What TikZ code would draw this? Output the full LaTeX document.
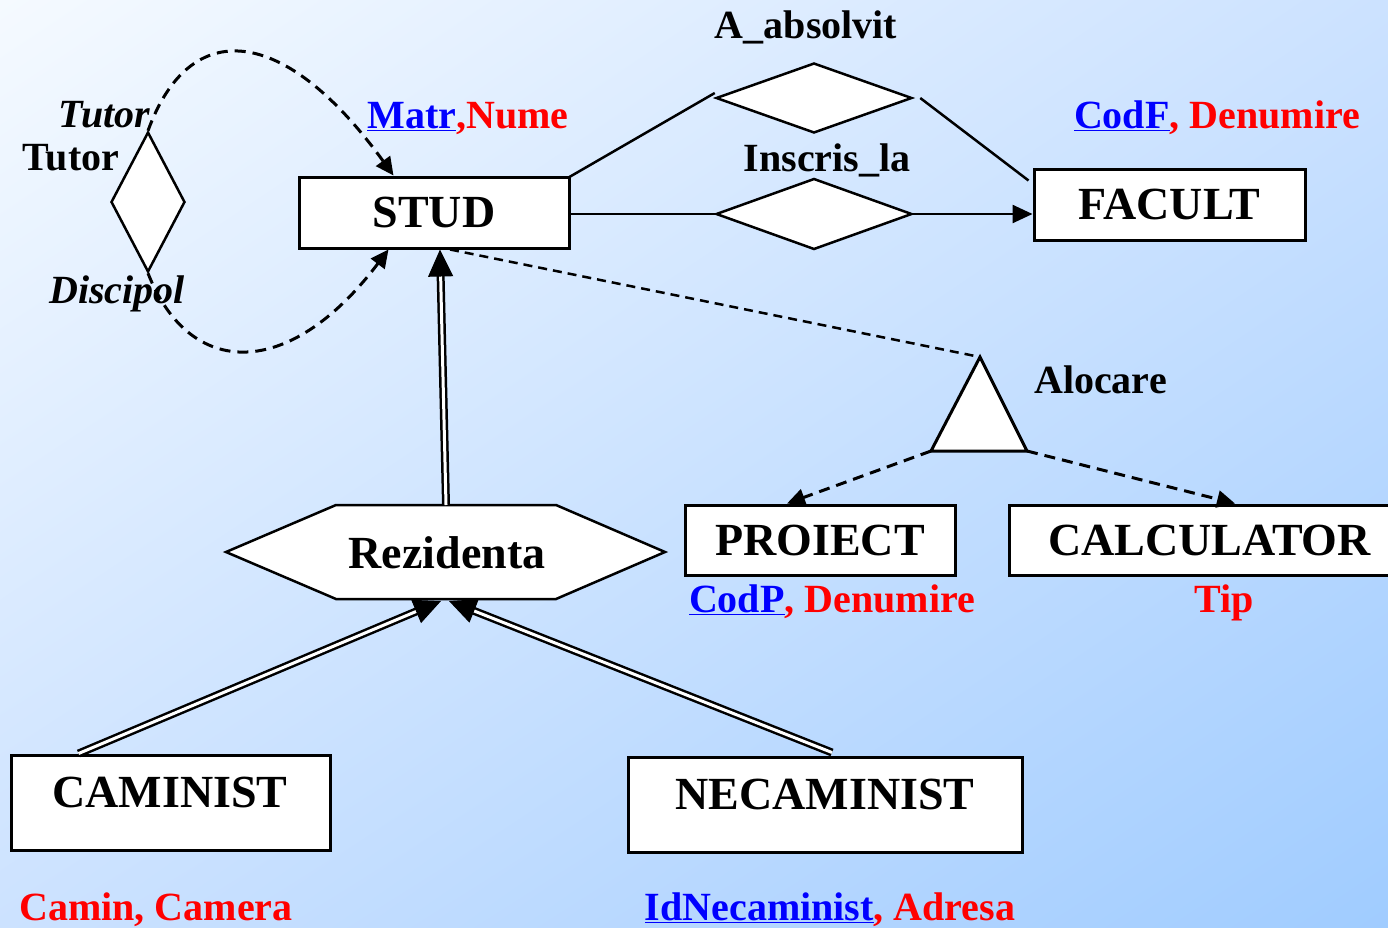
\documentclass[tikz,border=0pt]{standalone}
\usepackage{fontspec}
\setmainfont{Liberation Serif}
\usetikzlibrary{shapes.geometric,arrows.meta,calc,shadings}
\definecolor{bgA}{RGB}{245,250,255}
\definecolor{bgB}{RGB}{204,226,255}
\definecolor{bgC}{RGB}{160,204,255}
\definecolor{keyblue}{RGB}{0,0,255}
\definecolor{attred}{RGB}{255,0,0}
\begin{document}
\begin{tikzpicture}[x=1pt,y=-1pt,
  entity/.style={draw, fill=white, line width=3pt, inner sep=0pt, font=\fontsize{46}{50}\selectfont\bfseries},
  entname/.style={inner sep=0pt, anchor=base, font=\fontsize{46}{50}\selectfont\bfseries},
  rel/.style={diamond, draw, fill=white, line width=2.5pt, inner sep=0pt},
  lbl/.style={inner sep=0pt, anchor=base, font=\fontsize{40}{44}\selectfont\bfseries},
  ilbl/.style={inner sep=0pt, anchor=base, font=\fontsize{40}{44}\selectfont\bfseries\itshape},
  conn/.style={line width=2.5pt},
  tip/.style={line width=2.5pt, -{Triangle[length=20pt,width=18pt]}},
  dsh/.style={line width=3pt, dash pattern=on 11pt off 7pt},
  dshtip/.style={dsh, -{Triangle[length=18pt,width=17pt]}},
  thindsh/.style={line width=2.5pt, dash pattern=on 9pt off 6pt},
  dbl/.style={draw, double=white, double distance=3pt, line width=2.5pt},
  bigtip/.style={line width=1pt, -{Triangle[length=27pt,width=25pt]}}
]
\clip (0,0) rectangle (1388,927);
\shade[upper left=bgA, upper right=bgB, lower left=bgB, lower right=bgC] (0,0) rectangle (1388,927);

% entities
\node[entity, minimum width=270pt, minimum height=71pt] (stud) at (434,212.5) {STUD};
\node[entity, minimum width=271pt, minimum height=71pt] (facult) at (1169.5,204.5) {FACULT};
\node[entity, minimum width=270pt, minimum height=70pt] (proiect) at (820,540) {PROIECT};
\node[entity, minimum width=401pt, minimum height=70pt] (calc) at (1209.5,540) {CALCULATOR};
\node[entity, minimum width=319pt, minimum height=95pt] (caminist) at (170.5,802.5) {};
\node[entname] (caministtxt) at (170,807) {CAMINIST};
\node[entity, minimum width=394pt, minimum height=95pt] (necaminist) at (825,804.5) {};
\node[entname] (necaministtxt) at (825,809) {NECAMINIST};

% relationships
\node[rel, minimum width=196pt, minimum height=70pt] (absolvit) at (814,98) {};
\node[rel, minimum width=196pt, minimum height=71pt] (inscris) at (814,214) {};
\node[rel, minimum width=74pt, minimum height=140pt] (tutor) at (148,202) {};

% Rezidenta hexagon
\coordinate (rezW) at (226,552);
\coordinate (rezNW) at (336,505);
\coordinate (rezNE) at (556,505);
\coordinate (rezE) at (665,552);
\coordinate (rezSE) at (556,599);
\coordinate (rezSW) at (336,599);
\draw[line width=2.5pt, fill=white] (rezW) -- (rezNW) -- (rezNE) -- (rezE) -- (rezSE) -- (rezSW) -- cycle;
\node[entname] (rezidenta) at (447,568) {Rezidenta};
\coordinate (rezN) at (446,505);
\coordinate (rezS1) at (441,601);
\coordinate (rezS2) at (449,601);

% Alocare triangle
\coordinate (alocA) at (980,357);
\coordinate (alocBL) at (931,451);
\coordinate (alocBR) at (1027,451);
\draw[line width=3pt, fill=white] (alocA) -- (alocBR) -- (alocBL) -- cycle;

% labels
\node[lbl] (abslbl) at (806,38) {A\_absolvit};
\node[lbl] (inslbl) at (827,171) {Inscris\_la};
\node[lbl] (studattr) at (468,128) {\textcolor{keyblue}{\underline{Matr}}\textcolor{attred}{,Nume}};
\node[lbl] (facattr) at (1217,128) {\textcolor{keyblue}{\underline{CodF}}\textcolor{attred}{, Denumire}};
\node[ilbl] (tutorrole) at (104,127) {Tutor};
\node[lbl] (tutorlbl) at (71,170) {Tutor};
\node[ilbl] (discrole) at (117,303) {Discipol};
\node[lbl, anchor=base west] (aloclbl) at (1034,393) {Alocare};
\node[lbl] (proattr) at (832,612) {\textcolor{keyblue}{\underline{CodP}}\textcolor{attred}{, Denumire}};
\node[lbl] (calcattr) at (1224,612) {\textcolor{attred}{Tip}};
\node[lbl] (camattr) at (156,920) {\textcolor{attred}{Camin, Camera}};
\node[lbl] (necattr) at (830,920) {\textcolor{keyblue}{\underline{IdNecaminist}}\textcolor{attred}{, Adresa}};

% connectors: A_absolvit and Inscris_la
\draw[conn] ($(stud.north east)+(-2,2)$) -- ($(absolvit.west)+(0,-5)$);
\draw[conn] ($(absolvit.east)+(7,0)$) -- ($(facult.north west)+(-4,13)$);
\draw[conn] (stud.east |- inscris.west) -- (inscris.west);
\draw[tip] (inscris.east) -- (inscris.east -| facult.west);

% recursive Tutor
\draw[dshtip] (tutor.north) .. controls (190,15) and (285,25) .. ($(stud.north west)+(96,0)$);
\draw[dshtip] (tutor.south) .. controls (190,380) and (290,380) .. ($(stud.south west)+(91,0)$);

% Alocare
\draw[thindsh] ($(stud.south)+(16,0)$) -- (alocA);
\draw[dshtip] (alocBL) -- ($(proiect.north)+(-33,0)$);
\draw[dshtip] (alocBR) -- ($(calc.north)+(25.5,0)$);

% Rezidenta ISA arrows
\coordinate (studIn) at ($(stud.south)+(6,0)$);
\draw[dbl, shorten >=25pt] (rezN) -- (studIn);
\draw[bigtip] ($(studIn)!25pt!(rezN)$) -- (studIn);

\coordinate (camOut) at ($(caminist.north west)+(69,0)$);
\draw[dbl, shorten >=25pt] (camOut) -- (rezS1);
\draw[bigtip] ($(rezS1)!25pt!(camOut)$) -- (rezS1);

\coordinate (necOut) at ($(necaminist.north)+(7,-3)$);
\draw[dbl, shorten >=25pt] (necOut) -- (rezS2);
\draw[bigtip] ($(rezS2)!25pt!(necOut)$) -- (rezS2);
\end{tikzpicture}
\end{document}
